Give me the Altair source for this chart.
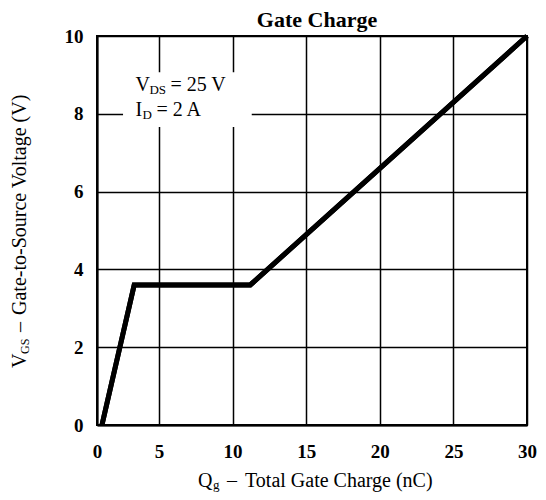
import altair as alt
import pandas as pd

# ---- data ----
qg = [0.4, 3.0, 11.2, 30.0]          # Total gate charge (nC)
vgs = [0.0, 3.6, 3.6, 10.0]          # Gate-to-source voltage (V)
x_ticks = [0, 5, 10, 15, 20, 25, 30]
y_ticks = [0, 2, 4, 6, 8, 10]
chart_title = "Gate Charge"
x_title_parts = ["Q", "g", "–", "Total Gate Charge (nC)"]
y_title_parts = ["V", "GS", "–", "Gate-to-Source Voltage (V)"]
ann_line1 = ["V", "DS", "= 25 V"]
ann_line2 = ["I", "D", "= 2 A"]
ann_x = [3.1]
ann_y = [8.58, 7.95]
box_x = [2.1, 11.3]
box_y = [7.66, 9.07]

FONT = "Liberation Serif"
W, H = 430, 389

xs = alt.Scale(domain=[0, 5, 30], range=[0, 62, W], nice=False)
ys = alt.Scale(domain=[0, 10], nice=False, zero=False)

common = dict(grid=True, gridColor="black", gridWidth=1.5, gridOpacity=1,
              domain=True, domainColor="black", domainWidth=2, ticks=False, tickSize=0,
              labelFont=FONT, labelFontSize=19, labelFontWeight="bold", labelColor="black",
              labelFlush=False, labelOverlap=False, title=None)
x_axis = alt.Axis(values=x_ticks, labelPadding=17, **common)
y_axis = alt.Axis(values=y_ticks, labelPadding=14, **common)

X = lambda f: alt.X(f, scale=xs, axis=x_axis)
Y = lambda f: alt.Y(f, scale=ys, axis=y_axis)

line_df = pd.DataFrame({"qg": qg, "vgs": vgs})
line = alt.Chart(line_df).mark_line(color="black", strokeWidth=5, clip=False).encode(
    x=X("qg:Q"), y=Y("vgs:Q"))

box_df = pd.DataFrame({"qg": [box_x[0]], "qg2": [box_x[1]], "vgs": [box_y[0]], "vgs2": [box_y[1]]})
box = alt.Chart(box_df).mark_rect(color="white", opacity=1).encode(
    x=X("qg:Q"), x2="qg2:Q", y=Y("vgs:Q"), y2="vgs2:Q")


def ann_piece(text, yv, dx, dy, size):
    df = pd.DataFrame({"qg": ann_x, "vgs": [yv], "t": [text]})
    return alt.Chart(df).mark_text(font=FONT, fontSize=size, color="black", align="left",
                                   baseline="alphabetic", dx=dx, dy=dy).encode(
        x=X("qg:Q"), y=Y("vgs:Q"), text="t:N")


anns = [
    ann_piece(ann_line1[0], ann_y[0], 0, 0, 20),
    ann_piece(ann_line1[1], ann_y[0], 14, 3, 13),
    ann_piece(ann_line1[2], ann_y[0], 35, 0, 20),
    ann_piece(ann_line2[0], ann_y[1], 0, 0, 20),
    ann_piece(ann_line2[1], ann_y[1], 7, 3, 13),
    ann_piece(ann_line2[2], ann_y[1], 21, 0, 20),
]


def text_piece(text, px, py, dx, dy, size, angle=0, weight="normal", align="left"):
    df = pd.DataFrame({"t": [text]})
    kw = dict(font=FONT, fontSize=size, color="black", align=align, baseline="alphabetic",
              dx=dx, dy=dy, fontWeight=weight)
    if angle:
        kw["angle"] = angle
    return alt.Chart(df).mark_text(**kw).encode(x=alt.value(px), y=alt.value(py), text="t:N")


# chart title (plot coords)
ttl = text_piece(chart_title, 220, -9, 0, 0, 22, weight="bold", align="center")

# x axis title
xt_x, xt_y = 101, 451
xts = [
    text_piece(x_title_parts[0], xt_x, xt_y, 0, 0, 20),
    text_piece(x_title_parts[1], xt_x, xt_y, 15, 2, 13),
    text_piece(x_title_parts[2], xt_x, xt_y, 29, 0, 20),
    text_piece(x_title_parts[3], xt_x, xt_y, 47, 0, 20),
]

# y axis title (rotated)
yt_x, yt_y = -71, 332
yts = [
    text_piece(y_title_parts[0], yt_x, yt_y, 0, 0, 20, 270),
    text_piece(y_title_parts[1], yt_x, yt_y, 14, 3, 12, 270),
    text_piece(y_title_parts[2], yt_x, yt_y, 36, 0, 20, 270),
    text_piece(y_title_parts[3], yt_x, yt_y, 53, 0, 20, 270),
]

chart = alt.layer(line, box, line, *anns, ttl, *xts, *yts).properties(
    width=W, height=H,
    autosize=alt.AutoSizeParams(type="none"),
    padding={"left": 89, "top": 28, "right": 11, "bottom": 67},
).configure(background="white").configure_view(stroke="black", strokeWidth=2)

chart.save("out.html", embed_options={"renderer": "svg", "actions": False})
